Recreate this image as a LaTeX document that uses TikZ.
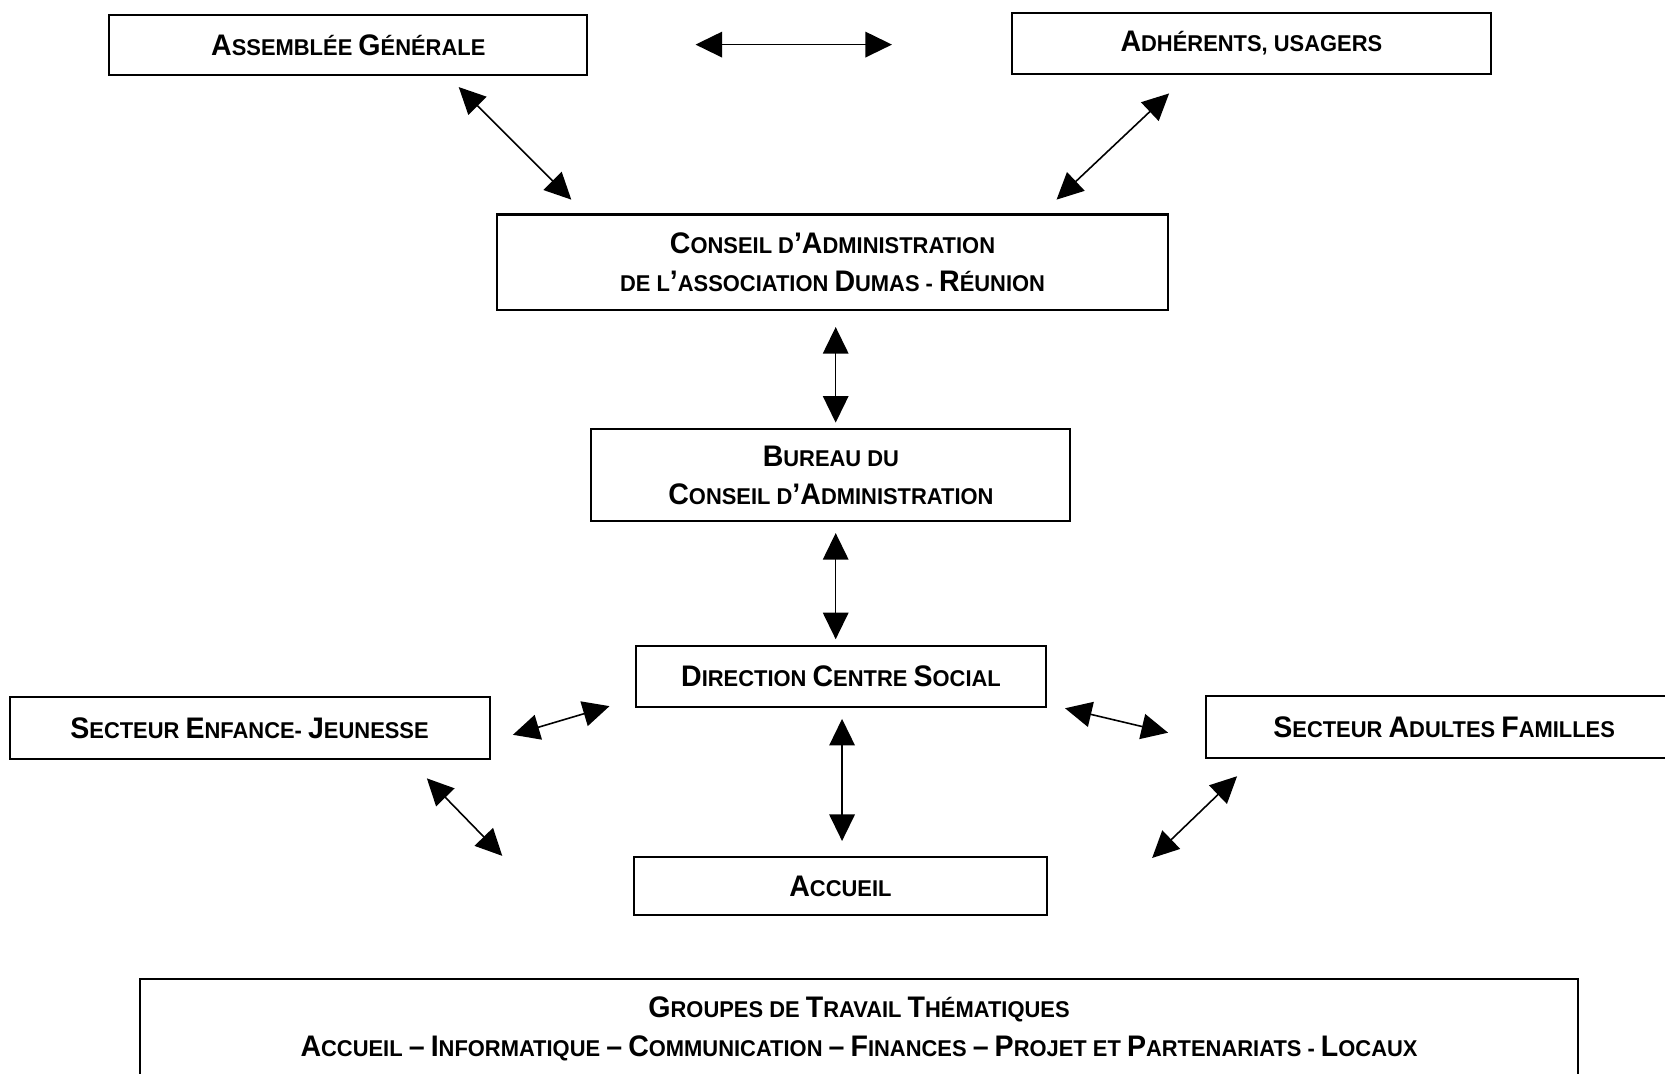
\documentclass[tikz,border=0pt]{standalone}
\usepackage{fontspec}
\setmainfont{Liberation Sans}[FakeStretch=0.96]
\usetikzlibrary{arrows.meta}
\newcommand\myB{\fontsize{28}{36}\selectfont}
\newcommand\myS{\fontsize{21.5}{36}\selectfont}
\begin{document}
\begin{tikzpicture}[x=1pt,y=-1pt,
  box/.style={draw, line width=1.9pt, rectangle, inner sep=0pt, font=\bfseries\myS, align=center},
  dbl/.style={line width=1.5pt, {Triangle[length=25pt,width=24pt]}-{Triangle[length=25pt,width=24pt]}}]
\useasboundingbox (0,0) rectangle (1568,1011);

\node[box, minimum width=450pt, minimum height=57pt] (ag) at (328,42.5)
  {{\myB A}SSEMBLÉE {\myB G}ÉNÉRALE};
\node[box, minimum width=451pt, minimum height=58pt] (adh) at (1178.5,41)
  {{\myB A}DHÉRENTS, USAGERS};
\node[box, minimum width=632pt, minimum height=90pt] (ca) at (784,247)
  {\rule{0pt}{4pt}{\myB C}ONSEIL D{\myB ’A}DMINISTRATION\\DE L{\myB ’}ASSOCIATION {\myB D}UMAS - {\myB R}ÉUNION};
\node[box, minimum width=451pt, minimum height=87pt] (bur) at (782.5,447.5)
  {{\myB B}UREAU DU\\{\myB C}ONSEIL D{\myB ’A}DMINISTRATION};
\node[box, minimum width=386pt, minimum height=58pt] (dir) at (792,637)
  {{\myB D}IRECTION {\myB C}ENTRE {\myB S}OCIAL};
\node[box, minimum width=452pt, minimum height=59pt] (enf) at (235,685.5)
  {{\myB S}ECTEUR {\myB E}NFANCE- {\myB J}EUNESSE};
\node[box, minimum width=448pt, minimum height=58pt] (adu) at (1360,684.5)
  {{\myB S}ECTEUR {\myB A}DULTES {\myB F}AMILLES};
\node[box, minimum width=389pt, minimum height=55pt] (acc) at (791.5,834.5)
  {{\myB A}CCUEIL};
\node[box, minimum width=1354pt, minimum height=94pt] (grp) at (809,969)
  {{\myB G}ROUPES DE {\myB T}RAVAIL {\myB T}HÉMATIQUES\\
   {\myB A}CCUEIL {\myB –} {\myB I}NFORMATIQUE {\myB –} {\myB C}OMMUNICATION {\myB –} {\myB F}INANCES {\myB –} {\myB P}ROJET ET {\myB P}ARTENARIATS - {\myB L}OCAUX};

\coordinate (h1) at (655,42);   \coordinate (h2) at (840,42);
\coordinate (p1) at (432,82);   \coordinate (p2) at (538,188);
\coordinate (q1) at (1101,88);  \coordinate (q2) at (995,188);
\coordinate (r1) at (787,308);  \coordinate (r2) at (787,398);
\coordinate (s1) at (787,502);  \coordinate (s2) at (787,602);
\coordinate (t1) at (483,692);  \coordinate (t2) at (574,665);
\coordinate (u1) at (1003,667); \coordinate (u2) at (1100,690);
\coordinate (v1) at (793,677);  \coordinate (v2) at (793,792);
\coordinate (w1) at (402,733);  \coordinate (w2) at (473,806);
\coordinate (z1) at (1165,731); \coordinate (z2) at (1085,808);

\draw[dbl] (h1) -- (h2);
\draw[dbl] (p1) -- (p2);
\draw[dbl] (q1) -- (q2);
\draw[dbl] (r1) -- (r2);
\draw[dbl] (s1) -- (s2);
\draw[dbl] (t1) -- (t2);
\draw[dbl] (u1) -- (u2);
\draw[dbl] (v1) -- (v2);
\draw[dbl] (w1) -- (w2);
\draw[dbl] (z1) -- (z2);
\end{tikzpicture}
\end{document}
